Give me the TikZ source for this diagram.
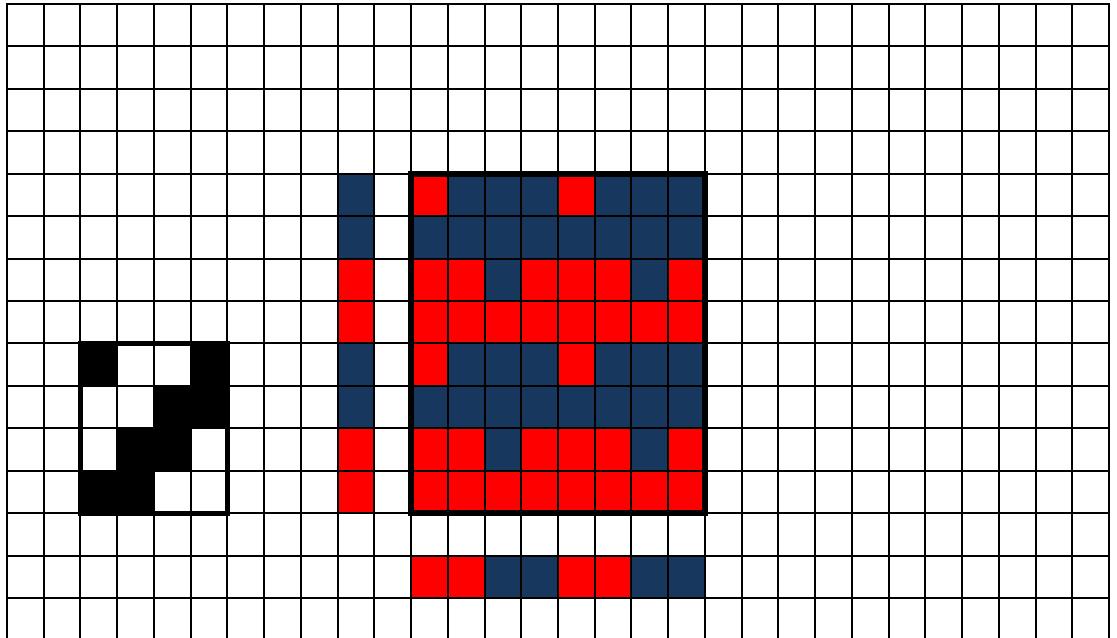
\documentclass[tikz,border=0pt]{standalone}
\usepackage{tikz}
\definecolor{navyblue}{HTML}{17375E}
\definecolor{brightred}{HTML}{FF0000}

\begin{document}
\begin{tikzpicture}[x=0.9183cm, y=-1.0608cm,
    gridline/.style={black, line width=1.4pt, line cap=rect},
    blockframe/.style={black, line width=#1}]
  \useasboundingbox (-0.1906,-0.0943) rectangle (30.218,14.918);

  % Black pattern
  \foreach \c/\r in {2/8, 5/8, 4/9, 5/9, 3/10, 4/10, 2/11, 3/11} {
    \fill[black] (\c,\r) rectangle ++(1,1);
  }

  % Single column stripe
  \foreach \dy in {0,4} {
    \fill[navyblue] (9,4+\dy) rectangle ++(1,2);
    \fill[brightred] (9,6+\dy) rectangle ++(1,2);
  }

  % Large pattern
  \fill[navyblue] (11,4) rectangle (19,12);
  \foreach \dy in {0,4} {
    \foreach \c in {11,15}
      \fill[brightred] (\c,4+\dy) rectangle ++(1,1);
    \foreach \c in {11,12,14,15,16,18}
      \fill[brightred] (\c,6+\dy) rectangle ++(1,1);
    \fill[brightred] (11,7+\dy) rectangle ++(8,1);
  }

  % Single row stripe
  \foreach \c in {11,15} {
    \fill[brightred] (\c,13) rectangle ++(2,1);
    \fill[navyblue] (\c+2,13) rectangle ++(2,1);
  }

  % Grid
  \foreach \i in {0,...,30}
    \draw[gridline] (\i,0) -- (\i,15);
  \foreach \j in {0,...,14}
    \draw[gridline] (0,\j) -- (30,\j);

  % Frames
  \draw[blockframe=3.4pt] (2,8) rectangle (6,12);
  \draw[blockframe=4.3pt] (11,4) rectangle (19,12);
\end{tikzpicture}
\end{document}
